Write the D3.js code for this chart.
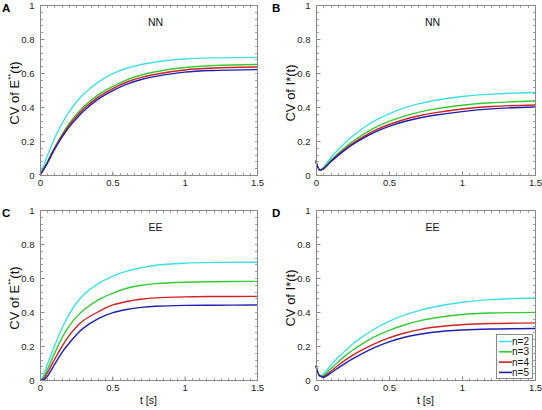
<!DOCTYPE html>
<html><head><meta charset="utf-8">
<script src="https://cdn.jsdelivr.net/npm/d3@7"></script>
<style>body{margin:0;background:#fff}svg{display:block}text{font-family:"Liberation Sans",Arial,sans-serif}</style>
</head><body>
<svg id="c" width="542" height="410"></svg>
<script>
const tValues = [0, 0.01, 0.025, 0.05, 0.1, 0.15, 0.2, 0.25, 0.3, 0.4, 0.5, 0.6, 0.7, 0.8, 1.0, 1.2, 1.5];
const seriesNames = ["n=2", "n=3", "n=4", "n=5"];
const seriesColors = ["#3fe0e6", "#33cc33", "#d02222", "#2020b0"];
const xTicks = [0, 0.5, 1, 1.5];
const xTickLabels = ["0", "0.5", "1", "1.5"];
const yTicks = [0, 0.2, 0.4, 0.6, 0.8, 1];
const yTickLabels = ["0", "0.2", "0.4", "0.6", "0.8", "1"];

// Panel A: NN, E**
const A_n2 = [0, 0.022, 0.055, 0.112, 0.215, 0.30, 0.37, 0.428, 0.475, 0.545, 0.595, 0.628, 0.65, 0.665, 0.682, 0.689, 0.692];
const A_n3 = [0, 0.014, 0.036, 0.076, 0.16, 0.235, 0.30, 0.355, 0.40, 0.47, 0.52, 0.56, 0.588, 0.607, 0.632, 0.644, 0.65];
const A_n4 = [0, 0.013, 0.034, 0.072, 0.155, 0.228, 0.29, 0.343, 0.388, 0.457, 0.507, 0.547, 0.574, 0.593, 0.618, 0.629, 0.635];
const A_n5 = [0, 0.012, 0.032, 0.068, 0.15, 0.22, 0.28, 0.33, 0.375, 0.445, 0.495, 0.535, 0.562, 0.58, 0.605, 0.615, 0.62];
// Panel B: NN, I*
const B_n2 = [0.085, 0.05, 0.03, 0.045, 0.10, 0.148, 0.19, 0.228, 0.262, 0.318, 0.36, 0.393, 0.418, 0.437, 0.462, 0.476, 0.485];
const B_n3 = [0.085, 0.05, 0.03, 0.04, 0.085, 0.126, 0.163, 0.196, 0.226, 0.277, 0.315, 0.345, 0.368, 0.386, 0.41, 0.425, 0.435];
const B_n4 = [0.085, 0.05, 0.03, 0.037, 0.08, 0.119, 0.154, 0.185, 0.213, 0.261, 0.297, 0.325, 0.347, 0.364, 0.388, 0.403, 0.412];
const B_n5 = [0.085, 0.05, 0.03, 0.035, 0.076, 0.114, 0.148, 0.178, 0.205, 0.251, 0.286, 0.313, 0.334, 0.35, 0.373, 0.389, 0.40];
// Panel C: EE, E**
const C_n2 = [0, 0.005, 0.03, 0.09, 0.2, 0.3, 0.385, 0.45, 0.5, 0.565, 0.61, 0.64, 0.66, 0.675, 0.687, 0.692, 0.693];
const C_n3 = [0, 0.002, 0.015, 0.06, 0.155, 0.245, 0.315, 0.37, 0.41, 0.47, 0.51, 0.54, 0.557, 0.567, 0.575, 0.578, 0.58];
const C_n4 = [0, 0, 0.005, 0.04, 0.12, 0.195, 0.26, 0.31, 0.35, 0.40, 0.44, 0.462, 0.475, 0.483, 0.489, 0.491, 0.492];
const C_n5 = [0, 0, 0, 0.02, 0.09, 0.16, 0.215, 0.265, 0.305, 0.36, 0.395, 0.415, 0.427, 0.434, 0.439, 0.44, 0.441];
// Panel D: EE, I*
const D_n2 = [0.085, 0.05, 0.022, 0.035, 0.085, 0.132, 0.172, 0.21, 0.243, 0.30, 0.345, 0.38, 0.407, 0.428, 0.457, 0.473, 0.482];
const D_n3 = [0.085, 0.05, 0.024, 0.025, 0.065, 0.105, 0.142, 0.175, 0.204, 0.253, 0.292, 0.322, 0.346, 0.363, 0.385, 0.394, 0.398];
const D_n4 = [0.085, 0.05, 0.025, 0.02, 0.05, 0.085, 0.117, 0.145, 0.17, 0.213, 0.248, 0.275, 0.295, 0.31, 0.325, 0.332, 0.336];
const D_n5 = [0.085, 0.05, 0.027, 0.016, 0.04, 0.07, 0.098, 0.124, 0.148, 0.19, 0.224, 0.25, 0.268, 0.281, 0.294, 0.30, 0.303];

const panels = [
  {letter:"A", title:"NN", ylab:"E", sup:"**", series:[A_n2,A_n3,A_n4,A_n5], x0:40, x1:257, y0:175, y1:5, xlab:false, legend:false},
  {letter:"B", title:"NN", ylab:"I*", sup:"", series:[B_n2,B_n3,B_n4,B_n5], x0:316, x1:535, y0:175, y1:5, xlab:false, legend:false},
  {letter:"C", title:"EE", ylab:"E", sup:"**", series:[C_n2,C_n3,C_n4,C_n5], x0:40, x1:257, y0:380, y1:210, xlab:true, legend:false},
  {letter:"D", title:"EE", ylab:"I*", sup:"", series:[D_n2,D_n3,D_n4,D_n5], x0:316, x1:535, y0:380, y1:210, xlab:true, legend:true}
];

const svg = d3.select("#c");
const frameCol = "#8a8a8a";

panels.forEach((p, pi) => {
  const x = d3.scaleLinear().domain([0, 1.5]).range([p.x0, p.x1]);
  const y = d3.scaleLinear().domain([0, 1]).range([p.y0, p.y1]);
  const g = svg.append("g");

  // curves
  const line = d3.line().x((d, i) => x(tValues[i])).y(d => y(d)).curve(d3.curveCatmullRom.alpha(0.5));
  p.series.forEach((s, si) => {
    g.append("path").datum(s).attr("d", line).attr("fill", "none")
      .attr("stroke", seriesColors[si]).attr("stroke-width", 1.4);
  });

  // frame
  g.append("rect").attr("x", p.x0 + 0.5).attr("y", p.y1 + 0.5)
    .attr("width", p.x1 - p.x0).attr("height", p.y0 - p.y1)
    .attr("fill", "none").attr("stroke", frameCol).attr("stroke-width", 1);

  // minor ticks
  const xMinor = d3.range(0, 1.5001, 0.05);
  const yMinor = d3.range(0, 1.0001, 0.04);
  xMinor.forEach(v => {
    const xx = Math.round(x(v)) + 0.5;
    g.append("line").attr("x1", xx).attr("x2", xx).attr("y1", p.y0).attr("y2", p.y0 - 2).attr("stroke", frameCol).attr("stroke-width", 0.8);
    g.append("line").attr("x1", xx).attr("x2", xx).attr("y1", p.y1 + 1).attr("y2", p.y1 + 3).attr("stroke", frameCol).attr("stroke-width", 0.8);
  });
  yMinor.forEach(v => {
    const yy = Math.round(y(v)) + 0.5;
    g.append("line").attr("x1", p.x0 + 1).attr("x2", p.x0 + 3).attr("y1", yy).attr("y2", yy).attr("stroke", frameCol).attr("stroke-width", 0.8);
    g.append("line").attr("x1", p.x1).attr("x2", p.x1 - 2).attr("y1", yy).attr("y2", yy).attr("stroke", frameCol).attr("stroke-width", 0.8);
  });

  // axes
  const xAxis = d3.axisBottom(x).tickValues(xTicks).tickFormat((d, i) => xTickLabels[i]).tickSizeInner(-4).tickSizeOuter(0).tickPadding(4);
  const gx = g.append("g").attr("transform", `translate(0,${p.y0 + 0.5})`).call(xAxis);
  const yAxis = d3.axisLeft(y).tickValues(yTicks).tickFormat((d, i) => yTickLabels[i]).tickSizeInner(-4).tickSizeOuter(0).tickPadding(6);
  const gy = g.append("g").attr("transform", `translate(${p.x0 + 0.5},0)`).call(yAxis);
  [gx, gy].forEach(a => {
    a.select(".domain").remove();
    a.selectAll("line").attr("stroke", frameCol);
    a.selectAll("text").attr("font-size", 9.5).attr("fill", "#222").style("font-family", "Liberation Sans, Arial, sans-serif");
  });

  // title
  g.append("text").attr("x", (p.x0 + p.x1) / 2 + 7).attr("y", p.y1 + 21)
    .attr("text-anchor", "middle").attr("font-size", 10.5).attr("fill", "#111").text(p.title);

  // panel letter
  g.append("text").attr("x", p.x0 < 100 ? 2 : 272).attr("y", p.y1 + 7)
    .attr("font-size", 11.5).attr("font-weight", "bold").attr("fill", "#000").text(p.letter);

  // y label
  const yl = g.append("text").attr("transform", `translate(${p.x0 - 21},${(p.y0 + p.y1) / 2 + 3}) rotate(-90)`)
    .attr("text-anchor", "middle").attr("font-size", 13).attr("fill", "#111");
  yl.append("tspan").text("CV of " + p.ylab);
  if (p.sup) yl.append("tspan").attr("dy", -6).attr("font-size", 8).text(p.sup);
  yl.append("tspan").attr("dy", p.sup ? 6 : 0).text("(t)");

  // x label
  if (p.xlab) {
    g.append("text").attr("x", (p.x0 + p.x1) / 2).attr("y", p.y0 + 24)
      .attr("text-anchor", "middle").attr("font-size", 10.5).attr("fill", "#111").text("t [s]");
  }

  // legend
  if (p.legend) {
    const lx = 496, ly = 334;
    const lg = g.append("g");
    lg.append("rect").attr("x", lx + 0.5).attr("y", ly + 0.5).attr("width", 36).attr("height", 44)
      .attr("fill", "#fff").attr("stroke", frameCol);
    seriesNames.forEach((n, i) => {
      const yy = ly + 7.5 + i * 10.3;
      lg.append("line").attr("x1", lx + 3).attr("x2", lx + 16).attr("y1", yy).attr("y2", yy)
        .attr("stroke", seriesColors[i]).attr("stroke-width", 1.6);
      lg.append("text").attr("x", lx + 16).attr("y", yy + 3.5).attr("font-size", 10).attr("fill", "#111").text(n);
    });
  }
});
</script>
</body></html>
